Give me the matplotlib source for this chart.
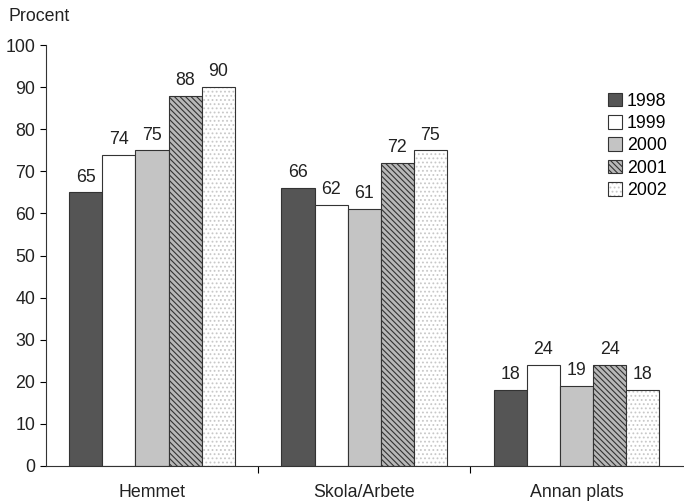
import numpy as np
import matplotlib.pyplot as plt

# data
categories = ["Hemmet", "Skola/Arbete", "Annan plats"]
years = ["1998", "1999", "2000", "2001", "2002"]
v1998 = [65, 66, 18]
v1999 = [74, 62, 24]
v2000 = [75, 61, 19]
v2001 = [88, 72, 24]
v2002 = [90, 75, 18]
series = [v1998, v1999, v2000, v2001, v2002]

# styles per year
faces = ["#555555", "white", "#c4c4c4", "#b8b8b8", "white"]
hatches = [None, None, None, "\\\\\\\\\\\\", "...."]
hatch_cols = [None, None, None, "#333333", "#c8c8c8"]

plt.rcParams['font.family'] = ['Liberation Sans', 'DejaVu Sans']
plt.rcParams['hatch.linewidth'] = 0.8

fig = plt.figure(figsize=(6.84, 5.01), dpi=100)
ax = fig.add_axes([0.067, 0.070, 0.931, 0.840])

fs = 12.8
x = np.arange(len(categories))
w = 0.156
for i, vals in enumerate(series):
    pos = x + (i - 2) * w
    bars = ax.bar(pos, vals, width=w, color=faces[i], edgecolor="#333333",
                  linewidth=0.8, label=years[i])
    if hatches[i]:
        for b in bars:
            b.set_hatch(hatches[i])
            b._hatch_color = plt.matplotlib.colors.to_rgba(hatch_cols[i])
    for p, v in zip(pos, vals):
        ax.text(p, v + 1.6, str(v), ha="center", va="bottom", fontsize=fs,
                color="#222222")

ax.set_xlim(-0.5, 2.5)
ax.set_ylim(0, 100)
ax.set_yticks(range(0, 101, 10))
ax.tick_params(axis="y", labelsize=fs, length=4, width=0.8, labelcolor="#222222")
ax.set_xticks([0.5, 1.5])
ax.set_xticklabels([])
ax.tick_params(axis="x", length=5, width=0.8)
for xi, c in zip(x, categories):
    ax.text(xi, -4.3, c, ha="center", va="top", fontsize=fs, color="#222222")

ax.spines["top"].set_visible(False)
ax.spines["right"].set_visible(False)
for s in ["left", "bottom"]:
    ax.spines[s].set_linewidth(0.8)
    ax.spines[s].set_color("#333333")

fig.text(0.012, 0.968, "Procent", fontsize=fs, ha="left", va="center",
         color="#222222")

ax.legend(loc="upper right", bbox_to_anchor=(1.0, 0.925), frameon=False,
          fontsize=fs, handlelength=0.8, handleheight=0.8, handletextpad=0.25,
          labelspacing=0.3)

fig.savefig("out.png", dpi=100)
